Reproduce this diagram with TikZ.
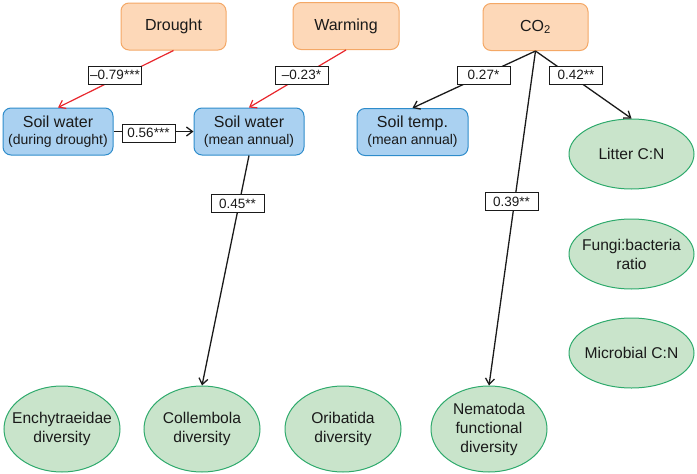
\documentclass[tikz,border=0pt]{standalone}
\usepackage{fontspec}
\setmainfont{Liberation Sans}
\usetikzlibrary{arrows.meta,shapes.geometric}
\definecolor{orfill}{HTML}{FDD8B8}
\definecolor{ordraw}{HTML}{F4A866}
\definecolor{blfill}{HTML}{AAD1F1}
\definecolor{bldraw}{HTML}{2E8CCB}
\definecolor{grfill}{HTML}{C9E4CB}
\definecolor{grdraw}{HTML}{2EAA6C}
\definecolor{redline}{HTML}{E8262C}
\definecolor{ink}{HTML}{1A1A1A}
\begin{document}
\begin{tikzpicture}[x=1pt,y=-1pt,
  driver/.style={draw=ordraw, fill=orfill, rounded corners=8pt, line width=1pt,
    minimum width=105pt, minimum height=47pt, inner sep=0pt, text=ink,
    font=\fontsize{16}{19}\selectfont},
  soilbox/.style={draw=bldraw, fill=blfill, rounded corners=8pt, line width=1pt,
    minimum width=110pt, minimum height=47pt, inner sep=0pt, align=center, text=ink,
    font=\fontsize{16}{17}\selectfont},
  resp/.style={ellipse, draw=grdraw, fill=grfill, line width=1pt, inner sep=0pt,
    minimum width=125pt, minimum height=70pt},
  taxon/.style={ellipse, draw=grdraw, fill=grfill, line width=1pt, inner sep=0pt,
    minimum width=116pt, minimum height=86pt},
  resptext/.style={align=center, text=ink, inner sep=0pt, font=\fontsize{15.6}{19}\selectfont},
  coef/.style={draw=ink, fill=white, line width=0.9pt, minimum width=53pt,
    minimum height=18pt, inner sep=0pt, text=ink, font=\fontsize{13.5}{16}\selectfont},
  effect/.style={draw=ink, line width=1.3pt, -{Straight Barb[length=6pt,width=9pt]}},
  negeffect/.style={effect, draw=redline, line width=1.2pt}
]
\useasboundingbox (0,0) rectangle (697,474);

% drivers
\node[driver] (drought) at (173.5,26.5) {Drought};
\node[driver, minimum width=106pt] (warming) at (346,26) {Warming};
\node[driver] (co2) at (535.5,27) {CO\textsubscript{2}};

% soil variables
\node[soilbox] (swd) at (58,131.5) {Soil water\\{\fontsize{14}{17}\selectfont (during drought)}};
\node[soilbox] (swm) at (249,131.5) {Soil water\\{\fontsize{14}{17}\selectfont (mean annual)}};
\node[soilbox, minimum width=111pt] (stemp) at (412.5,132) {Soil temp.\\{\fontsize{14}{17}\selectfont (mean annual)}};

% right column
\node[resp, label={[resptext]center:Litter C:N}] (litter) at (631.5,154) {};
\node[resp, label={[resptext]center:Fungi:bacteria\\ratio}] (fungi) at (631.5,254) {};
\node[resp, label={[resptext]center:Microbial C:N}] (micro) at (631.5,353) {};

% bottom row
\node[taxon, label={[resptext]center:Enchytraeidae\\diversity}] (ench) at (62,429) {};
\node[taxon, label={[resptext]center:Collembola\\diversity}] (coll) at (202,429) {};
\node[taxon, label={[resptext]center:Oribatida\\diversity}] (orib) at (343,429) {};
\node[taxon, label={[resptext]center:Nematoda\\functional\\diversity}] (nema) at (489,429) {};

% connectors
\draw[negeffect] (drought.south) -- (swd.north);
\draw[negeffect] (warming.south) -- (swm.north);
\draw[effect] (swd.east) -- (swm.west);
\draw[effect] (swm.south) -- (coll.north);
\draw[effect] (co2.south) -- (stemp.north);
\draw[effect] (co2.south) -- (litter.north);
\draw[effect] (co2.south) -- (nema.north);

% coefficients
\node[coef] (c1) at (115,75) {–0.79***};
\node[coef] (c2) at (301.5,75) {–0.23*};
\node[coef] (c3) at (148.5,133) {0.56***};
\node[coef] (c4) at (237.5,203.5) {0.45**};
\node[coef] (c5) at (483.5,75) {0.27*};
\node[coef] (c6) at (576,75) {0.42**};
\node[coef] (c7) at (511.5,201.5) {0.39**};
\end{tikzpicture}
\end{document}
